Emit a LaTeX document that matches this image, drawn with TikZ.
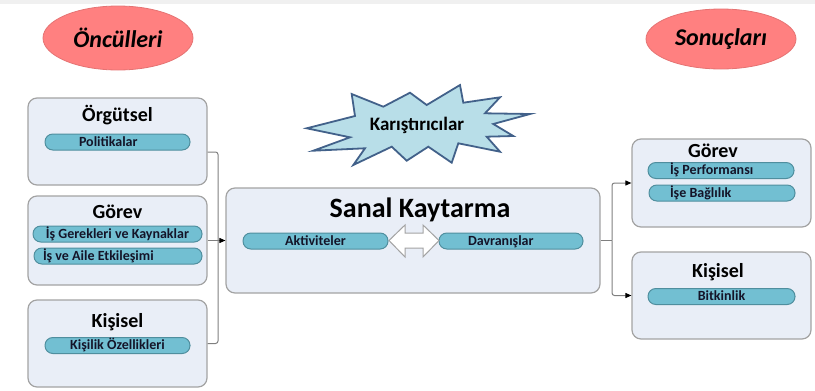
\documentclass[tikz,border=0pt]{standalone}
\usepackage{fontspec}
\setmainfont{Carlito}
\usetikzlibrary{arrows.meta,shapes.geometric}
\definecolor{boxfill}{HTML}{E9EEF7}
\definecolor{boxborder}{HTML}{A3A3A3}
\definecolor{pillfill}{HTML}{72BFD2}
\definecolor{pillborder}{HTML}{4F8E9E}
\definecolor{ellfill}{HTML}{FF8080}
\definecolor{ellborder}{HTML}{E57373}
\definecolor{starfill}{HTML}{B8DEE8}
\definecolor{starborder}{HTML}{42618A}
\definecolor{connc}{HTML}{7F7F7F}
\definecolor{bandc}{HTML}{F0F0F0}
\definecolor{pilltext}{HTML}{141428}
\begin{document}
\begin{tikzpicture}[x=1pt,y=-1pt,
  box/.style={draw=boxborder, fill=boxfill, line width=1.2pt, rounded corners=9pt, inner sep=0pt},
  title/.style={font=\bfseries\fontsize{20}{22}\selectfont, anchor=base, inner sep=0pt},
  pill/.style={draw=pillborder, fill=pillfill, line width=1pt, rounded corners=7.8pt,
    minimum height=16pt, inner ysep=0pt, text height=10pt, text depth=2pt,
    font=\bfseries\fontsize{14}{16}\selectfont, text=pilltext},
  ell/.style={ellipse, draw=ellborder, fill=ellfill, line width=0.8pt, inner sep=0pt,
    font=\bfseries\itshape\fontsize{24}{26}\selectfont},
  conn/.style={draw=connc, line width=1pt, rounded corners=2.5pt},
  tip/.style={-{Triangle[length=6pt,width=5pt,fill=black,color=black]}}
]
\useasboundingbox (0,0) rectangle (815,391);
\fill[bandc] (0,0) rectangle (815,3.5);

% ellipses
\node[ell, minimum width=150pt, minimum height=64pt] (onc) at (118,38) {Öncülleri};
\node[ell, minimum width=150pt, minimum height=60pt] (son) at (721,39) {Sonuçları};

% left boxes
\node[box, minimum width=179pt, minimum height=87pt] (org) at (117.5,141.5) {};
\node[title] (orgT) at (117.5,121.7) {Örgütsel};
\node[pill, minimum width=145pt, text width=77pt, inner xsep=34pt, align=flush left] (pol) at (117.5,142) {Politikalar};

\node[box, minimum width=179pt, minimum height=89pt] (gorL) at (117.5,240.5) {};
\node[title] (gorLT) at (117.5,218) {Görev};
\node[pill, minimum width=169pt, inner xsep=0pt] (isg) at (117.5,234) {İş Gerekleri ve Kaynaklar};
\node[pill, minimum width=168pt, text width=150pt, inner xsep=9pt, align=flush left] (isa) at (118,256) {İş ve Aile Etkileşimi};

\node[box, minimum width=179pt, minimum height=87pt] (kisL) at (117.5,343.5) {};
\node[title] (kisLT) at (117.5,327) {Kişisel};
\node[pill, minimum width=145pt] (kio) at (117.5,345.5) {Kişilik Özellikleri};

% central box
\node[box, minimum width=374pt, minimum height=105pt] (sanal) at (413,240.5) {};
\node[font=\bfseries\fontsize{28}{30}\selectfont, anchor=base, inner sep=0pt] (sanalT) at (420,217) {Sanal Kaytarma};
\node[pill, minimum width=145pt] (akt) at (315.5,241) {Aktiviteler};
\node[pill, minimum width=144pt, text width=86pt, inner xsep=29pt, align=flush left] (dav) at (511,241) {Davranışlar};
\draw[draw=boxborder, fill=white, line width=1pt, line join=miter]
  (389,240.5) -- (405,225) -- (405,233) -- (423,233) -- (423,225) -- (439,240.5)
  -- (423,257) -- (423,248) -- (405,248) -- (405,257) -- cycle;

% star
\draw[starborder, fill=starfill, line width=1.8pt, line join=miter]
  (306.7,128.3) -- (355,116) -- (351.7,94) -- (383.3,106.7) -- (410,92.7) -- (426.7,105)
  -- (460,85) -- (463.3,102.7) -- (500,97.3) -- (485,113.3) -- (530,114) -- (493.3,124)
  -- (513.3,136) -- (486.7,136.7) -- (500,151.7) -- (458.3,143.3) -- (451.7,162.7)
  -- (428.3,146.7) -- (406.7,160.7) -- (391.7,146.7) -- (353.3,165) -- (365,148.3)
  -- (313.3,150.7) -- (350,137.3) -- cycle;
\node[font=\bfseries\fontsize{19}{21}\selectfont, inner sep=0pt] (karis) at (417,125) {Karıştırıcılar};

% right boxes
\node[box, minimum width=179pt, minimum height=88pt] (gorR) at (721.5,183) {};
\node[title] (gorRT) at (713,157) {Görev};
\node[pill, minimum width=146pt, text width=102pt, inner xsep=22pt, align=flush left] (isp) at (721,170.5) {İş Performansı};
\node[pill, minimum width=146pt, text width=104pt, inner xsep=21pt, align=flush left] (isb) at (722,193) {İşe Bağlılık};

\node[box, minimum width=179pt, minimum height=87pt] (kisR) at (721.5,295.5) {};
\node[title] (kisRT) at (718,277) {Kişisel};
\node[pill, minimum width=147pt] (bit) at (721.5,296.5) {Bitkinlik};

% connectors left
\coordinate (jL) at (218,240.5);
\draw[conn] ([yshift=-10.5pt]org.east) -| (jL);
\draw[conn] (kisL.east) -| (jL);
\draw[conn, tip] (gorL.east) -- (sanal.west);

% connectors right
\coordinate (jR) at (612,240.5);
\draw[conn] (sanal.east) -- (jR);
\draw[conn, tip] (jR) |- (gorR.west);
\draw[conn, tip] (jR) |- (kisR.west);
\end{tikzpicture}
\end{document}
